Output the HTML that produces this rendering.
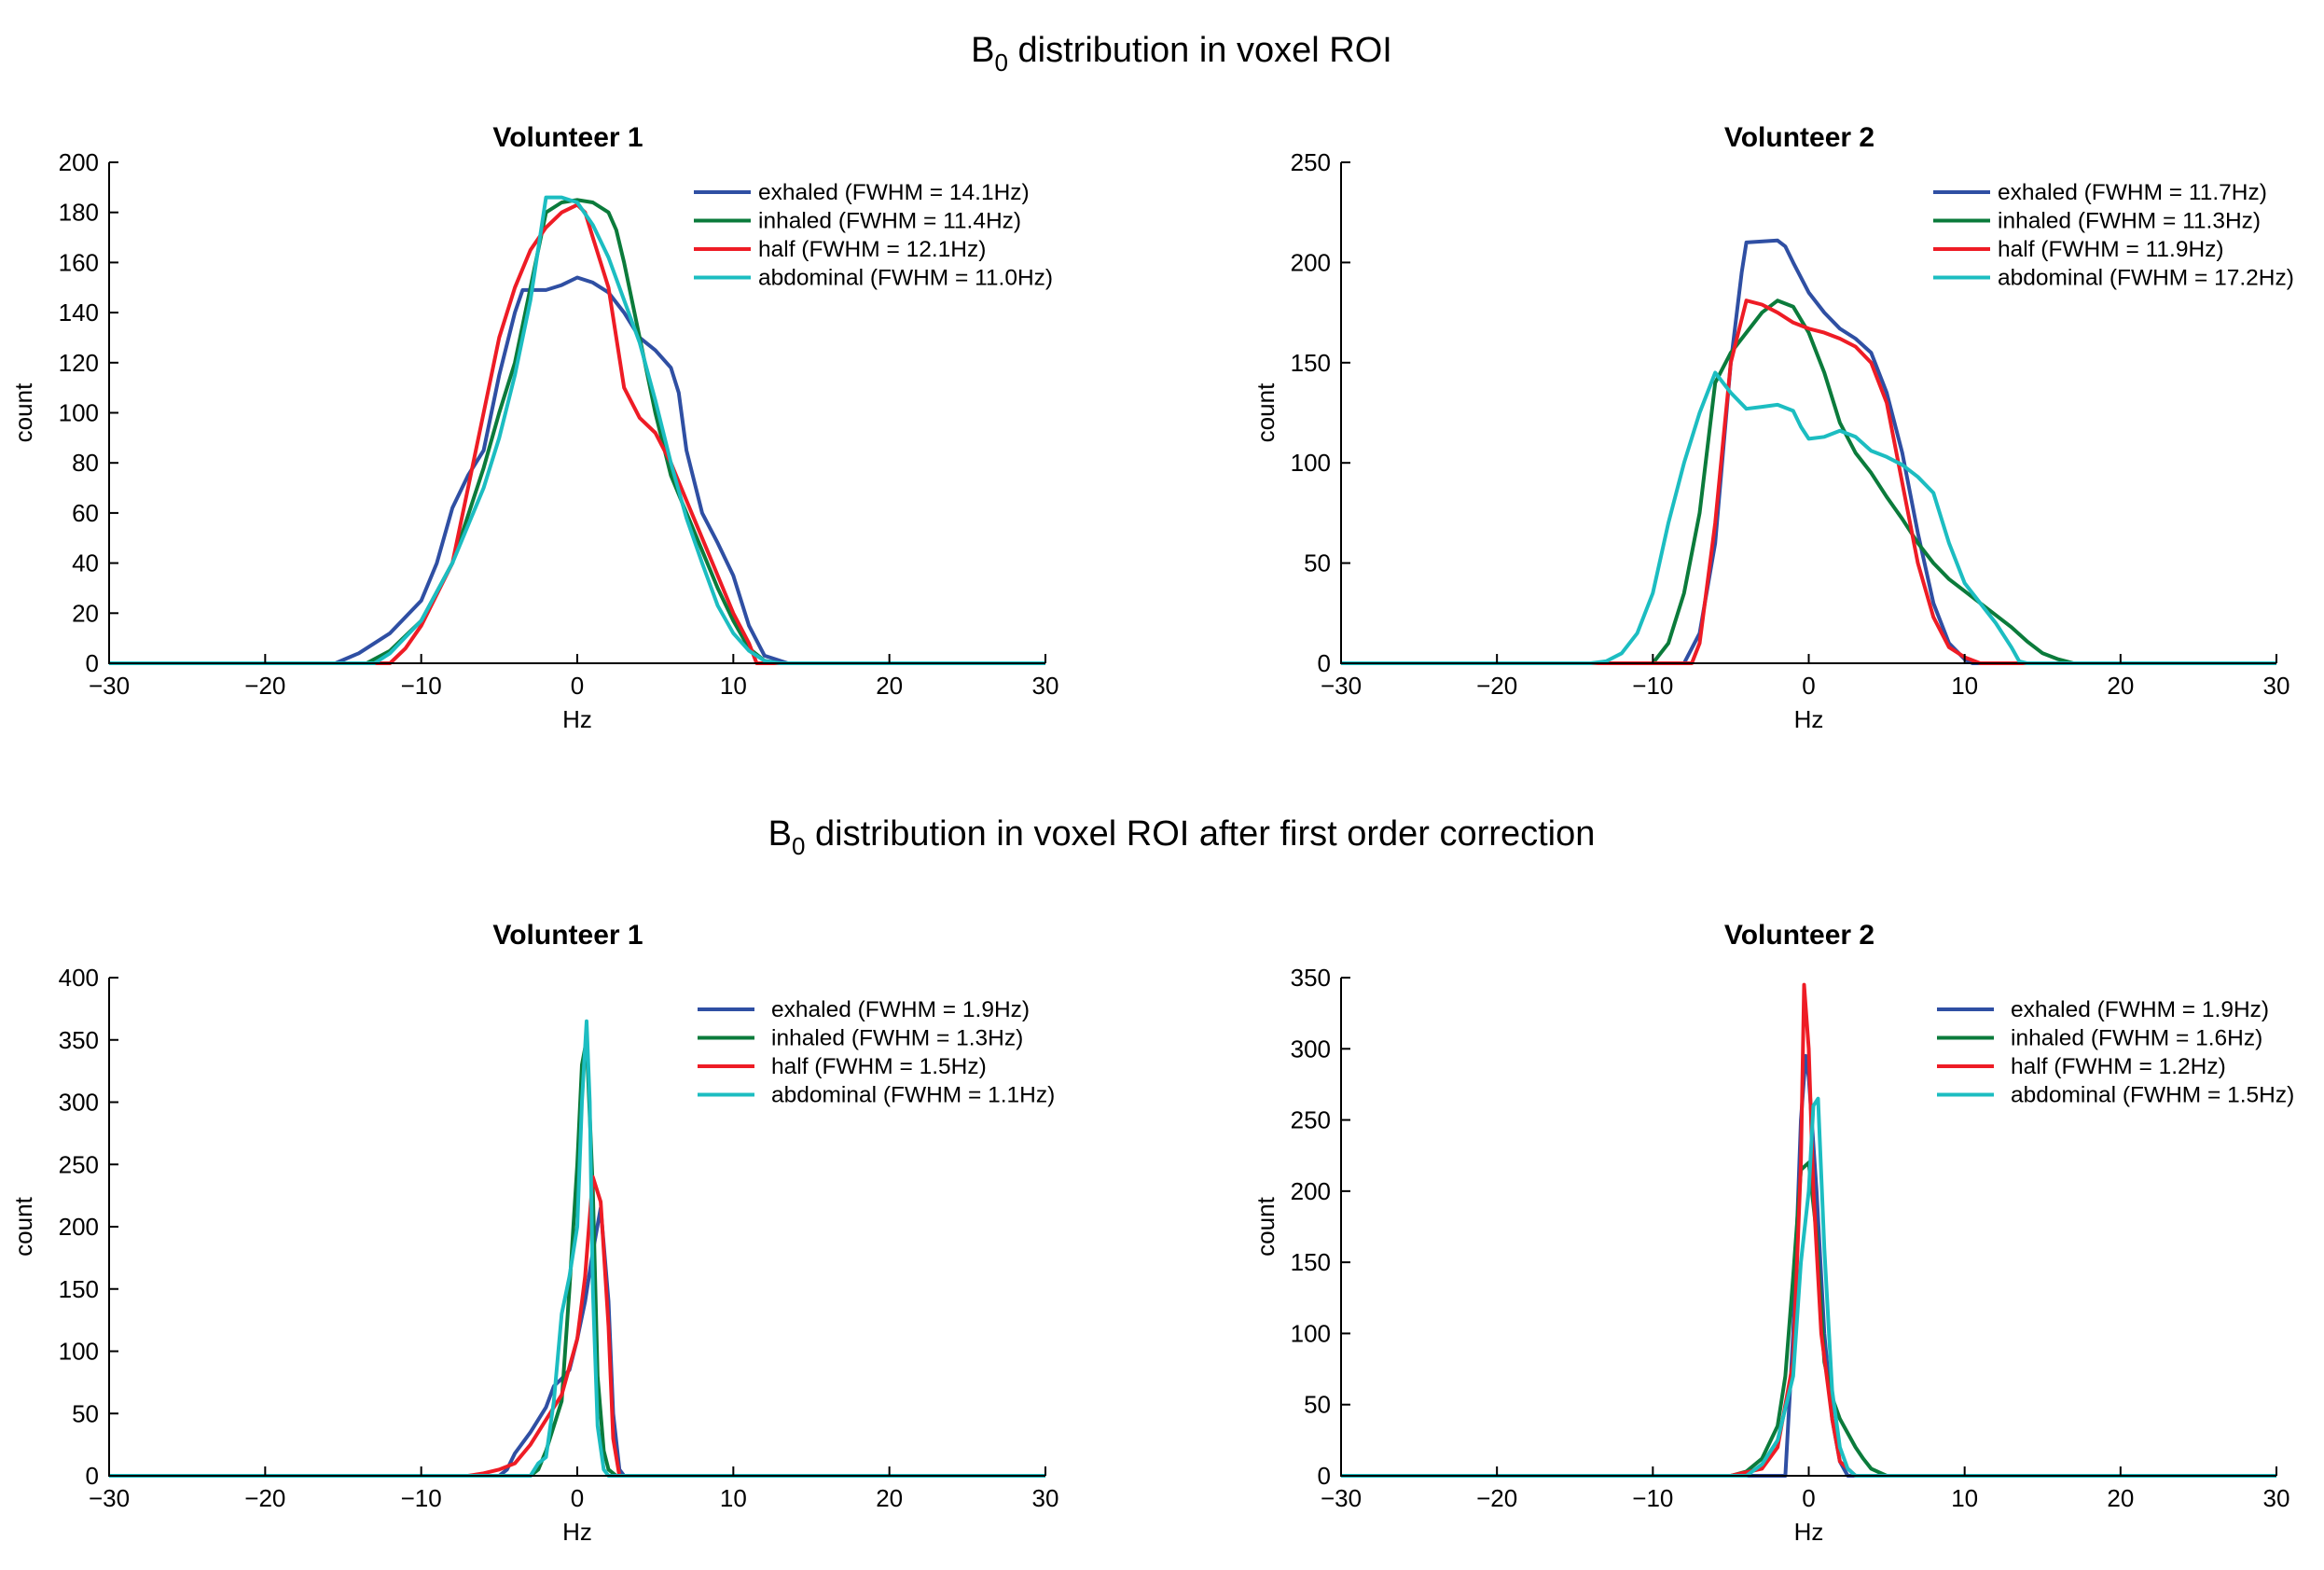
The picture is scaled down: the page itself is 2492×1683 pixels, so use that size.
<!DOCTYPE html>
<html><head><meta charset="utf-8">
<style>
html,body{margin:0;padding:0;background:#fff;}
svg{display:block;font-family:"Liberation Sans",Arial,sans-serif;}
</style></head>
<body>
<svg id="fig" width="2492" height="1683" viewBox="0 0 2492 1683" xmlns="http://www.w3.org/2000/svg">
<text x="1267" y="66" text-anchor="middle" font-size="38">B<tspan font-size="26" dy="10">0</tspan><tspan dy="-10"> distribution in voxel ROI</tspan></text>
<text x="1267" y="906" text-anchor="middle" font-size="38">B<tspan font-size="26" dy="10">0</tspan><tspan dy="-10"> distribution in voxel ROI after first order correction</tspan></text>
</svg>
<script>
const xTicks=[-30,-20,-10,0,10,20,30];
const seriesNames=["exhaled","inhaled","half","abdominal"];
const colors=["#2f4fa3","#0b7b3b","#ee1c25","#1cbdc1"];
// Panel A (top-left)
const fwhmA=["14.1","11.4","12.1","11.0"];
const yTicksA=[0,20,40,60,80,100,120,140,160,180,200];
const exA=[[-30,0],[-15.5,0],[-14,4],[-12,12],[-10,25],[-9,40],[-8,62],[-7,75],[-6,85],[-5,115],[-4,140],[-3.5,149],[-2,149],[-1,151],[0,154],[1,152],[2,148],[3,140],[4,130],[5,125],[6,118],[6.5,108],[7,85],[8,60],[9,48],[10,35],[11,15],[12,3],[13.5,0],[30,0]];
const inA=[[-30,0],[-13.5,0],[-12,5],[-10,17],[-8,40],[-6,78],[-5,100],[-4,120],[-3,150],[-2,180],[-1,184],[0,185],[1,184],[2,180],[2.5,173],[3,160],[4,130],[5,100],[6,75],[7,60],[8,45],[9,30],[10,17],[11,6],[12,1],[13,0],[30,0]];
const haA=[[-30,0],[-12,0],[-11,6],[-10,15],[-8,40],[-7,70],[-6,100],[-5,130],[-4,150],[-3,165],[-2,174],[-1,180],[0,183],[0.5,180],[1,170],[2,150],[3,110],[4,98],[5,92],[6,80],[7,65],[8,50],[9,35],[10,20],[11,8],[11.5,0],[30,0]];
const abA=[[-30,0],[-13,0],[-12,4],[-10,17],[-8,40],[-6,70],[-5,90],[-4,115],[-3,145],[-2,186],[-1,186],[0,184],[1,175],[2,162],[3,145],[4,128],[5,105],[6,80],[7,58],[8,40],[9,23],[10,12],[11,5],[12,1],[13,0],[30,0]];
// Panel B (top-right)
const fwhmB=["11.7","11.3","11.9","17.2"];
const yTicksB=[0,50,100,150,200,250];
const exB=[[-30,0],[-8,0],[-7,15],[-6,60],[-5,150],[-4.3,195],[-4,210],[-2,211],[-1.5,208],[-1,200],[0,185],[1,175],[2,167],[3,162],[4,155],[5,135],[6,105],[7,65],[8,30],[9,10],[10,2],[10.5,0],[30,0]];
const inB=[[-30,0],[-10,0],[-9,10],[-8,35],[-7,75],[-6,140],[-5,155],[-4,165],[-3,175],[-2,181],[-1,178],[0,165],[1,145],[2,120],[3,105],[4,95],[5,83],[6,72],[7,60],[8,50],[9,42],[10,36],[11,30],[12,24],[13,18],[14,11],[15,5],[16,2],[17,0],[30,0]];
const haB=[[-30,0],[-7.5,0],[-7,10],[-6,70],[-5,150],[-4,181],[-3,179],[-2,175],[-1,170],[0,167],[1,165],[2,162],[3,158],[4,150],[5,130],[6,90],[7,50],[8,23],[9,8],[10,3],[11,0],[30,0]];
const abB=[[-30,0],[-14,0],[-13,1],[-12,5],[-11,15],[-10,35],[-9,70],[-8,100],[-7,125],[-6,145],[-5,135],[-4,127],[-3,128],[-2,129],[-1,126],[-0.5,118],[0,112],[1,113],[2,116],[3,113],[4,106],[5,103],[6,99],[7,93],[8,85],[9,60],[10,40],[11,30],[12,20],[13,8],[13.5,1],[14,0],[30,0]];
// Panel C (bottom-left)
const fwhmC=["1.9","1.3","1.5","1.1"];
const yTicksC=[0,50,100,150,200,250,300,350,400];
const exC=[[-30,0],[-5,0],[-4.5,5],[-4,18],[-3,35],[-2,55],[-1.5,72],[-1,78],[-0.5,85],[0,110],[0.5,140],[1,180],[1.5,215],[2,140],[2.3,50],[2.7,5],[3,0],[30,0]];
const inC=[[-30,0],[-3,0],[-2.5,5],[-2,20],[-1,60],[-0.5,150],[0,250],[0.3,330],[0.6,350],[1,230],[1.3,80],[1.7,20],[2,5],[2.5,0],[30,0]];
const haC=[[-30,0],[-7,0],[-6,2],[-5,5],[-4,10],[-3,25],[-2,45],[-1,65],[0,110],[0.5,160],[1,240],[1.5,220],[2,120],[2.3,30],[2.7,0],[30,0]];
const abC=[[-30,0],[-3,0],[-2.5,10],[-2,15],[-1.5,60],[-1,130],[-0.5,160],[0,200],[0.3,300],[0.6,365],[0.8,300],[1,150],[1.3,40],[1.7,5],[2,0],[30,0]];
// Panel D (bottom-right)
const fwhmD=["1.9","1.6","1.2","1.5"];
const yTicksD=[0,50,100,150,200,250,300,350];
const exD=[[-30,0],[-1.5,0],[-1,100],[-0.5,250],[-0.2,295],[0,280],[0.5,200],[1,100],[1.5,40],[2,10],[2.5,0],[30,0]];
const inD=[[-30,0],[-5,0],[-4,3],[-3,12],[-2,35],[-1.5,70],[-1,140],[-0.5,215],[0,220],[0.5,170],[1,80],[1.5,55],[2,40],[3,20],[3.5,12],[4,5],[5,0],[30,0]];
const haD=[[-30,0],[-5,0],[-3,5],[-2,20],[-1,80],[-0.5,220],[-0.3,345],[0,300],[0.3,200],[0.8,100],[1.5,40],[2,10],[3,0],[30,0]];
const abD=[[-30,0],[-4,0],[-3,8],[-2,25],[-1,70],[-0.5,150],[0,200],[0.3,260],[0.6,265],[1,160],[1.5,60],[2,20],[2.5,5],[3,0],[30,0]];

const NS="http://www.w3.org/2000/svg";
const svg=document.getElementById('fig');
function mk(tag,attrs,parent){const e=document.createElementNS(NS,tag);for(const k in attrs)e.setAttribute(k,attrs[k]);(parent||svg).appendChild(e);return e;}

function panel(key,title,L,R,T,B,yTicks,series,fwhm,legX,legTextX,legY,legStep,countX,titleY){
  const g=mk('g',{});
  
  
  const ymax=yTicks[yTicks.length-1];
  const sx=v=>L+(v+30)/60*(R-L);
  const sy=v=>B-v/ymax*(B-T);
  const t=mk('text',{x:(L+R)/2-10,y:titleY,'text-anchor':'middle','font-size':30,'font-weight':'bold'},g);
  t.textContent=title;
  
  
  series.forEach((pts,i)=>{
    const p=mk('polyline',{points:pts.map(d=>sx(d[0]).toFixed(1)+','+sy(d[1]).toFixed(1)).join(' '),fill:'none',stroke:colors[i],'stroke-width':4,'stroke-linejoin':'round'},g);
    
    
  });
  const ax=mk('path',{d:`M${L},${T}V${B}H${R}`,fill:'none',stroke:'#000','stroke-width':2},g);
  
  
  xTicks.forEach(v=>{
    mk('line',{x1:sx(v),x2:sx(v),y1:B,y2:B-10,stroke:'#000','stroke-width':2},g);
    const tl=mk('text',{x:sx(v),y:B+33,'text-anchor':'middle','font-size':26},g);
    tl.textContent=(v<0?'\u2212'+(-v):String(v));
    
    
  });
  yTicks.forEach(v=>{
    mk('line',{x1:L,x2:L+10,y1:sy(v),y2:sy(v),stroke:'#000','stroke-width':2},g);
    const tl=mk('text',{x:L-11,y:sy(v)+9,'text-anchor':'end','font-size':26},g);
    tl.textContent=String(v);
    
    
  });
  const xl=mk('text',{x:(L+R)/2,y:B+69,'text-anchor':'middle','font-size':26},g);
  xl.textContent='Hz';
  
  
  const cy=(T+B)/2;
  const yl=mk('text',{x:countX,y:cy,'text-anchor':'middle','font-size':26,transform:`rotate(-90 ${countX} ${cy})`},g);
  yl.textContent='count';
  
  
  seriesNames.forEach((n,i)=>{
    const y=legY+i*legStep;
    const ln=mk('line',{x1:legX,x2:legX+61,y1:y,y2:y,stroke:colors[i],'stroke-width':4},g);
    
    
    const tx=mk('text',{x:legTextX,y:y+8,'font-size':24.5},g);
    tx.textContent=n+' (FWHM = '+fwhm[i]+'Hz)';
    
    
  });
}
panel('volunteer1-before','Volunteer 1',117,1121,174,711,yTicksA,[exA,inA,haA,abA],fwhmA,744,813,206,30.5,34,157);
panel('volunteer2-before','Volunteer 2',1438,2441,174,711,yTicksB,[exB,inB,haB,abB],fwhmB,2073,2142,206,30.5,1366,157);
panel('volunteer1-after','Volunteer 1',117,1121,1048,1582,yTicksC,[exC,inC,haC,abC],fwhmC,748,827,1082,30.5,34,1012);
panel('volunteer2-after','Volunteer 2',1438,2441,1048,1582,yTicksD,[exD,inD,haD,abD],fwhmD,2077,2156,1082,30.5,1366,1012);
</script>
</body></html>
